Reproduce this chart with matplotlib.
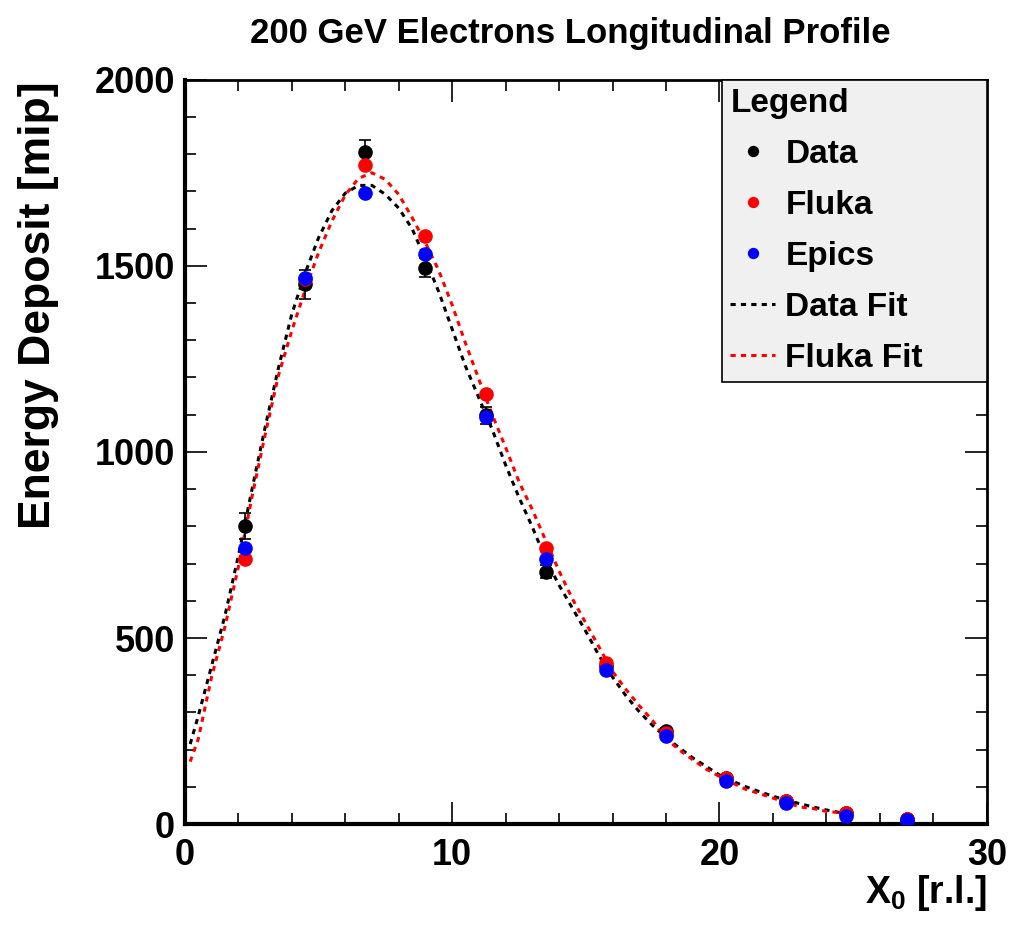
import matplotlib
matplotlib.use("Agg")
from matplotlib import pyplot as plt
from matplotlib import font_manager
from matplotlib.ticker import MultipleLocator

# measured points (X0 in radiation lengths, energy in mip)
x_pts = [2.25, 4.5, 6.75, 9.0, 11.25, 13.5, 15.75, 18.0, 20.25, 22.5, 24.75, 27.0]
data = [800, 1450, 1807, 1495, 1098, 678, 425, 250, 125, 62, 30, 15]
data_err = [35, 40, 32, 25, 22, 18, 12, 9, 6, 4, 3, 2]
fluka = [712, 1465, 1772, 1580, 1155, 742, 432, 246, 125, 62, 30, 14]
epics = [742, 1468, 1696, 1532, 1094, 712, 415, 237, 115, 57, 23, 12]

# fit curves
fit_x = [0.2, 0.5, 1.0, 1.5, 2.0, 2.5, 3.0, 3.5, 4.0, 4.5, 5.0, 5.5, 6.0, 6.5,
         7.0, 7.5, 8.0, 8.5, 9.0, 9.5, 10.0, 10.5, 11.0, 11.5, 12.0, 12.5,
         13.0, 13.5, 14.0, 14.5, 15.0, 15.5, 16.0, 16.5, 17.0, 17.5, 18.0,
         18.5, 19.0, 19.5, 20.0, 20.5, 21.0, 21.5, 22.0, 22.5, 23.0, 23.5,
         24.0, 24.6]
data_fit = [215, 290, 425, 560, 720, 895, 1065, 1225, 1370, 1480, 1575, 1648,
            1695, 1716, 1716, 1692, 1655, 1600, 1518, 1430, 1330, 1230, 1145,
            1060, 965, 878, 798, 712, 642, 580, 518, 452, 395, 345, 302, 265,
            233, 205, 178, 155, 132, 115, 100, 87, 75, 64, 55, 46, 38, 30]
fluka_fit = [168, 228, 395, 530, 690, 875, 1045, 1205, 1325, 1435, 1535, 1620,
             1690, 1735, 1750, 1732, 1692, 1630, 1562, 1487, 1395, 1292, 1195,
             1100, 1012, 920, 845, 762, 680, 605, 540, 475, 410, 362, 318, 278,
             230, 199, 173, 148, 128, 110, 93, 82, 70, 58, 46, 42, 34, 30]

names = [f.name for f in font_manager.fontManager.ttflist]
narrow = "Liberation Sans Narrow" if "Liberation Sans Narrow" in names else "Liberation Sans"
wide = "Liberation Sans"

plt.rcParams["mathtext.fontset"] = "custom"
plt.rcParams["mathtext.rm"] = narrow + ":bold"

fig = plt.figure(figsize=(10.1, 9.27), dpi=100)
ax = fig.add_axes([0.183, 0.111, 0.794, 0.803])

dash = (0, (1.7, 1.7))
ax.plot(fit_x, data_fit, color="k", lw=2.2, linestyle=dash, label="Data Fit", zorder=2)
ax.plot(fit_x, fluka_fit, color="#ff0000", lw=2.2, linestyle=dash, label="Fluka Fit", zorder=2)

ax.errorbar(x_pts, data, yerr=data_err, fmt="none", ecolor="k", elinewidth=1.2,
            capsize=4, capthick=1.2, zorder=3)
ax.plot(x_pts, data, "o", color="k", ms=9.5, label="Data", zorder=4)
ax.plot(x_pts, fluka, "o", color="#ff0000", ms=9.5, label="Fluka", zorder=4)
ax.plot(x_pts, epics, "o", color="#0000ff", ms=9.5, label="Epics", zorder=4)

ax.set_xlim(0, 30)
ax.set_ylim(0, 2000)
ax.xaxis.set_major_locator(MultipleLocator(10))
ax.xaxis.set_minor_locator(MultipleLocator(2))
ax.yaxis.set_major_locator(MultipleLocator(500))
ax.yaxis.set_minor_locator(MultipleLocator(100))
ax.tick_params(which="both", direction="in", top=True, right=True, width=1.2)
ax.tick_params(which="major", length=16)
ax.tick_params(which="minor", length=8)
ax.tick_params(axis="x", pad=10)
ax.tick_params(axis="y", pad=7)
for lab in ax.get_xticklabels() + ax.get_yticklabels():
    lab.set_fontfamily(narrow)
    lab.set_fontweight("bold")
    lab.set_fontsize(26)
for side in ["left", "bottom"]:
    ax.spines[side].set_linewidth(3)
for side in ["top", "right"]:
    ax.spines[side].set_linewidth(2)

handles, labels = ax.get_legend_handles_labels()
order = [labels.index(n) for n in ["Data", "Fluka", "Epics", "Data Fit", "Fluka Fit"]]
leg = ax.legend([handles[i] for i in order], [labels[i] for i in order],
                title="Legend", alignment="left", loc="upper left",
                bbox_to_anchor=(0.67, 0.597, 0.33, 0.403), mode="expand",
                borderaxespad=0, fancybox=False,
                framealpha=1, facecolor="#f0f0f0", edgecolor="k",
                prop={"family": narrow, "weight": "bold", "size": 24},
                title_fontproperties={"family": narrow, "weight": "bold", "size": 24},
                handlelength=1.35, handletextpad=0.3, labelspacing=0.6,
                borderpad=0.25, markerscale=0.75)
leg.get_frame().set_linewidth(1.2)

fig.text(0.565, 0.964, "200 GeV Electrons Longitudinal Profile", ha="center",
         va="center", family=narrow, weight="bold", size=25)
fig.text(0.038, 0.671, "Energy Deposit [mip]", rotation=90, ha="center",
         va="center", family=wide, weight="bold", size=32)
fig.text(0.977, 0.037, r"X$_\mathregular{0}$ [r.l.]", ha="right", va="center",
         family=narrow, weight="bold", size=27)

fig.savefig("out.png", dpi=100)
